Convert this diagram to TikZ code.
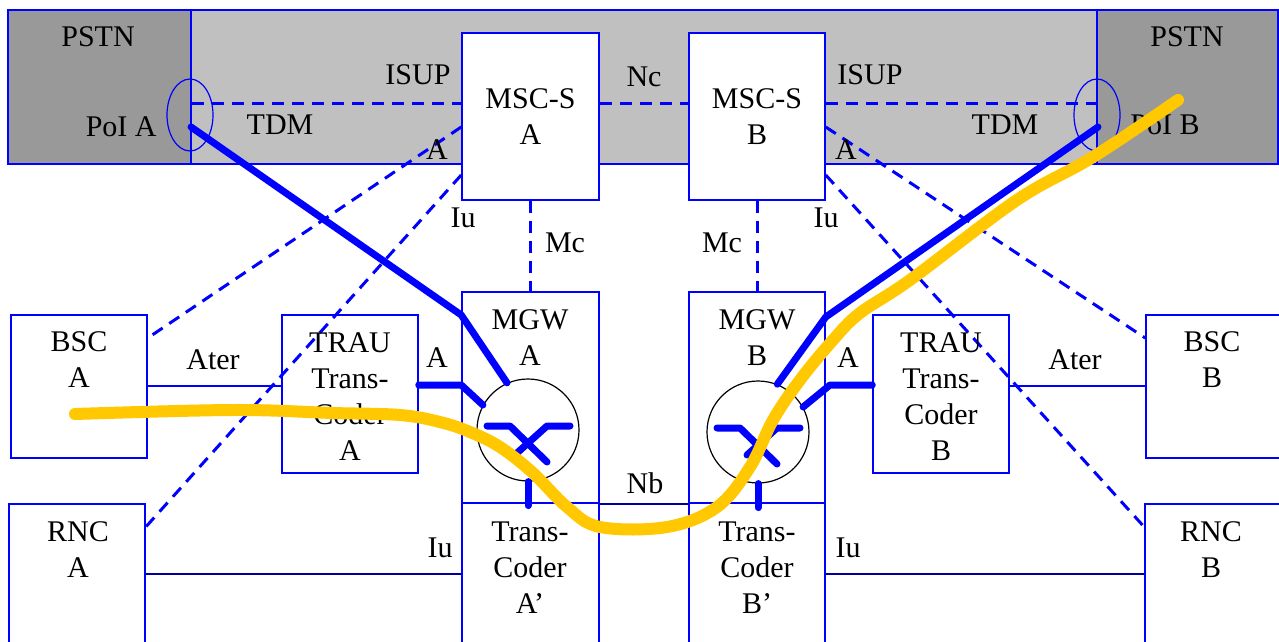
\documentclass[tikz,border=0pt]{standalone}
\usepackage{fontspec}
\setmainfont{Liberation Serif}
\usetikzlibrary{fit,shapes.geometric}
\definecolor{bandgray}{RGB}{192,192,192}
\definecolor{pstngray}{RGB}{153,153,153}
\definecolor{callyellow}{RGB}{255,200,0}

\begin{document}
\begin{tikzpicture}[x=0.5pt, y=-0.5pt,
    every node/.style={font=\fontsize{15}{18}\selectfont},
    netbox/.style={draw=blue, line width=0.75pt, fill=white, inner sep=0pt},
    pstnbox/.style={draw=blue, line width=1pt, fill=pstngray, inner sep=0pt},
    lbl/.style={inner sep=0pt, align=center},
    sig/.style={draw=blue, line width=1.5pt, dash pattern=on 6pt off 4pt},
    link/.style={draw=blue, line width=0.75pt},
    iulink/.style={draw=blue!60!black, line width=0.75pt},
    bearer/.style={draw=blue, line width=3.5pt, line cap=round, line join=round},
    swcircle/.style={circle, draw=black, line width=0.6pt, fill=white, minimum size=51pt, inner sep=0pt},
    poi/.style={ellipse, draw=blue, line width=0.6pt, minimum width=23pt, minimum height=36pt, inner sep=0pt},
    callpath/.style={draw=callyellow, line width=6pt, line cap=round, line join=round}]
  \useasboundingbox (0,0) rectangle (1279,642);
  \clip (0,0) rectangle (1279,642);

  % core band and PSTN
  \node[pstnbox, fill=bandgray, line width=0.6pt, fit={(191,10) (1097,164)}] (core) {};
  \node[pstnbox, fit={(8,10) (191,164)}] (pstnA) {};
  \node[pstnbox, fit={(1097,10) (1278,164)}] (pstnB) {};
  \node[poi] (ellA) at (190,115) {};
  \node[poi] (ellB) at (1097,115) {};
  \coordinate (tdmA) at (191,127);
  \coordinate (tdmB) at (1098,127);

  % network elements
  \node[netbox, fit={(462,33) (599,200)}] (mscA) {};
  \node[netbox, fit={(689,33) (825,200)}] (mscB) {};
  \node[netbox, fit={(462,292) (599,503)}] (mgwA) {};
  \node[netbox, fit={(689,292) (825,503)}] (mgwB) {};
  \node[netbox, fit={(462,503) (599,660)}] (tcA) {};
  \node[netbox, fit={(689,503) (825,660)}] (tcB) {};
  \node[netbox, fit={(11,315) (147,458)}] (bscA) {};
  \node[netbox, fit={(282,315) (418,473)}] (trauA) {};
  \node[netbox, fit={(873,315) (1009,473)}] (trauB) {};
  \node[netbox, fit={(1146,315) (1290,458)}] (bscB) {};
  \node[netbox, fit={(9,504) (145,660)}] (rncA) {};
  \node[netbox, fit={(1145,504) (1290,660)}] (rncB) {};

  % signalling
  \draw[sig] (pstnA.east |- 0,104) -- (mscA.west |- 0,104);
  \draw[sig] (mscA.east |- 0,104) -- (mscB.west |- 0,104);
  \draw[sig] (mscB.east |- 0,104) -- (pstnB.west |- 0,104);
  \draw[sig] (mscA.west |- 0,127) -- (bscA.east |- 0,338);
  \draw[sig] (mscA.west |- 0,175) -- (rncA.east |- 0,527);
  \draw[sig] (mscB.east |- 0,127) -- (bscB.west |- 0,338);
  \draw[sig] (mscB.east |- 0,175) -- (rncB.west |- 0,527);
  \draw[sig] (mscA.south) -- (mscA.south |- mgwA.north);
  \draw[sig] (mscB.south) -- (mscB.south |- mgwB.north);

  % user plane
  \draw[link] (bscA.east |- 0,386) -- (trauA.west |- 0,386);
  \draw[link] (trauB.east |- 0,386) -- (bscB.west |- 0,386);
  \draw[iulink] (rncA.east |- 0,574) -- (tcA.west |- 0,574);
  \draw[iulink] (tcB.east |- 0,574) -- (rncB.west |- 0,574);
  \draw[iulink] (mgwA.south east) -- (mgwB.south west);

  \node[swcircle] (swA) at (528,430) {};
  \node[swcircle] (swB) at (758,432) {};

  \draw[bearer] (tdmA) -- (mgwA.west |- 0,315) -- (swA.114);
  \draw[bearer] (trauA.east |- 0,385) -- (mgwA.west |- 0,385) -- (swA.151);
  \draw[bearer] (tdmB) -- (mgwB.east |- 0,317) -- (swB.68);
  \draw[bearer] (trauB.west |- 0,385) -- (830,385) -- (swB.29);
  \foreach \sw in {swA,swB}{
    \draw[bearer] (\sw.south) -- ++(0,24);
    \draw[bearer] ([shift={(-41,-4)}]\sw.center) -- ++(23,0) -- ++(37,36);
    \draw[bearer] ([shift={(42,-4)}]\sw.center) -- ++(-23,0) -- ++(-30,27);
  }

  % texts
  \node[lbl] (pstnAtxt) at (98,37) {PSTN};
  \node[lbl] (pstnBtxt) at (1187,37) {PSTN};
  \node[lbl, anchor=east] (poiAtxt) at (157,127) {PoI A};
  \node[lbl, anchor=west] (poiBtxt) at (1130,125) {PoI B};
  \node[lbl] (isupA) at (418,75) {ISUP};
  \node[lbl] (isupB) at (870,75) {ISUP};
  \node[lbl] (nc) at (644,77) {Nc};
  \node[lbl] (tdmAtxt) at (280,125) {TDM};
  \node[lbl] (tdmBtxt) at (1005,125) {TDM};
  \node[lbl] (aifA) at (437,150) {A};
  \node[lbl] (aifB) at (846,150) {A};
  \node[lbl] (iuA) at (463,218) {Iu};
  \node[lbl] (iuB) at (826,218) {Iu};
  \node[lbl] (mcA) at (565,243) {Mc};
  \node[lbl] (mcB) at (722,243) {Mc};
  \node[lbl] (aterA) at (213,360) {Ater};
  \node[lbl] (aterB) at (1075,360) {Ater};
  \node[lbl] (atcA) at (437,358) {A};
  \node[lbl] (atcB) at (848,358) {A};
  \node[lbl] (nb) at (645,483) {Nb};
  \node[lbl] (iurA) at (440,548) {Iu};
  \node[lbl] (iurB) at (848,548) {Iu};

  \node[lbl] (mscAtxt) at (mscA.center) {MSC-S\\A};
  \node[lbl] (mscBtxt) at (mscB.center) {MSC-S\\B};
  \node[lbl] (mgwAtxt) at (530,338) {MGW\\A};
  \node[lbl] (mgwBtxt) at (757,338) {MGW\\B};
  \node[lbl] (bscAtxt) at (79,360) {BSC\\A};
  \node[lbl] (bscBtxt) at (1212,360) {BSC\\B};
  \node[lbl] (trauAtxt) at (350,397) {TRAU\\Trans-\\Coder\\A};
  \node[lbl] (trauBtxt) at (941,397) {TRAU\\Trans-\\Coder\\B};
  \node[lbl] (rncAtxt) at (78,550) {RNC\\A};
  \node[lbl] (rncBtxt) at (1211,550) {RNC\\B};
  \node[lbl] (tcAtxt) at (530,568) {Trans-\\Coder\\A'};
  \node[lbl] (tcBtxt) at (757,568) {Trans-\\Coder\\B'};

  % highlighted call path
  \draw[callpath] plot[smooth, tension=0.6] coordinates {(75,414) (233,410) (333,413) (400,415) (440,422) (470,432) (500,447) (533,473) (567,507) (600,527) (667,527) (717,507) (750,467) (773,420) (800,380) (833,340) (860,313) (910,280) (1017,200) (1093,157) (1178,100)};
\end{tikzpicture}
\end{document}
